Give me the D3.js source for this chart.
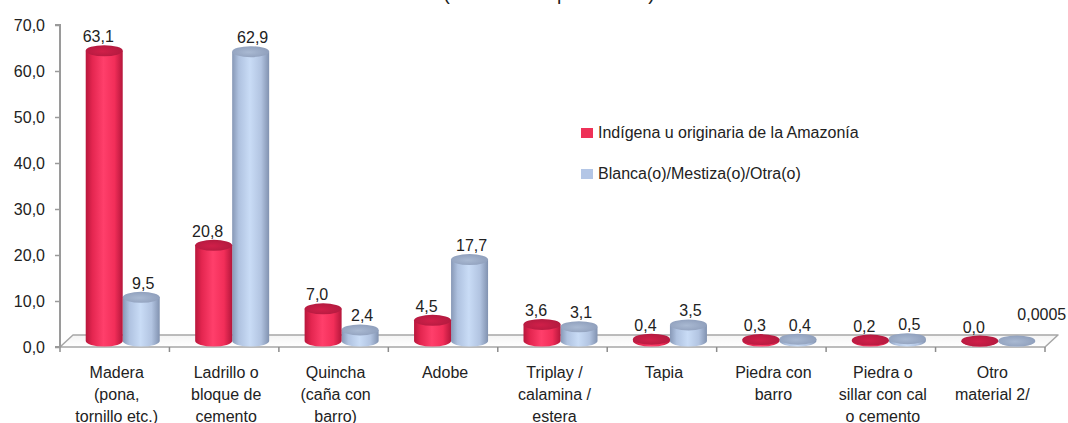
<!DOCTYPE html>
<html>
<head>
<meta charset="utf-8">
<script src="https://cdn.jsdelivr.net/npm/d3@7"></script>
<style>
  html, body { margin: 0; padding: 0; background: #fff; }
  svg { display: block; font-family: "Liberation Sans", Arial, sans-serif; }
</style>
</head>
<body>
<svg id="chart" width="1068" height="423"></svg>
<script>
// Material of the dwelling's walls, by ethnic self-identification (%)
const categories = [
  "Madera\n(pona,\ntornillo etc.)",
  "Ladrillo o\nbloque de\ncemento",
  "Quincha\n(caña con\nbarro)",
  "Adobe",
  "Triplay /\ncalamina /\nestera",
  "Tapia",
  "Piedra con\nbarro",
  "Piedra o\nsillar con cal\no cemento",
  "Otro\nmaterial 2/"
];
const seriesNames = [
  "Indígena u originaria de la Amazonía",
  "Blanca(o)/Mestiza(o)/Otra(o)"
];
const indigenaValues = [63.1, 20.8, 7.0, 4.5, 3.6, 0.4, 0.3, 0.2, 0.0];
const blancaValues   = [9.5, 62.9, 2.4, 17.7, 3.1, 3.5, 0.4, 0.5, 0.0005];
const yTicks = [0, 10, 20, 30, 40, 50, 60, 70];
const titleText = "(Distribución porcentual)";

const svg = d3.select("#chart");
const defs = svg.append("defs");

// plot geometry
const plotLeft = 60, plotRight = 1045, plotFront = 347, plotTop = 25;
const depthX = 13, depthY = 12;          // floor depth offset
const barDX = 8, barDY = 6;              // bars stand mid-depth
const rx = 18.5, ry = 5.5;

const x = d3.scaleBand().domain(categories).range([plotLeft, plotRight]).padding(0);
const y = d3.scaleLinear().domain([0, 70]).range([plotFront, plotTop]);
const yBar = d3.scaleLinear().domain([0, 70]).range([plotFront - barDY, plotTop - barDY]);

const palette = [
  { legend: "#EE3158", stops: ["#B8173C", "#E42650", "#FF3F6B", "#F22E59", "#B5163B"], topFill: "#D01F49", topEdge: "#B21A3F" },
  { legend: "#B3C6E6", stops: ["#8798B6", "#AFC2E0", "#C9DCF6", "#B2C4E1", "#8192B0"], topFill: "#A9B9D2", topEdge: "#8E9EBB" }
];
palette.forEach((p, i) => {
  const g = defs.append("linearGradient").attr("id", "body" + i)
    .attr("x1", 0).attr("x2", 1).attr("y1", 0).attr("y2", 0);
  [0, 0.18, 0.48, 0.78, 1].forEach((o, k) =>
    g.append("stop").attr("offset", o).attr("stop-color", p.stops[k]));
  const t = defs.append("radialGradient").attr("id", "top" + i)
    .attr("cx", 0.45).attr("cy", 0.55).attr("r", 0.6);
  t.append("stop").attr("offset", 0).attr("stop-color", p.topFill);
  t.append("stop").attr("offset", 1).attr("stop-color", p.topEdge);
});

// title, mostly above the top edge
svg.append("text").attr("x", 549).attr("y", 0)
  .attr("text-anchor", "middle").attr("font-size", 19.5).attr("fill", "#222")
  .text(titleText);

// floor
const floor = defs.append("linearGradient").attr("id", "floorFill")
  .attr("x1", 0).attr("x2", 0).attr("y1", 0).attr("y2", 1);
floor.append("stop").attr("offset", 0).attr("stop-color", "#f4f4f4");
floor.append("stop").attr("offset", 1).attr("stop-color", "#ffffff");
svg.append("path")
  .attr("d", `M${plotLeft},${plotFront} L${plotRight},${plotFront} L${plotRight + depthX},${plotFront - depthY} L${plotLeft + depthX},${plotFront - depthY} Z`)
  .attr("fill", "url(#floorFill)").attr("stroke", "#a6a6a6").attr("stroke-width", 1.5)
  .attr("stroke-linejoin", "round");

// x ticks at category boundaries
const bounds = categories.map(c => x(c)).concat([plotRight]);
svg.append("g").selectAll("line").data(bounds).join("line")
  .attr("x1", d => d).attr("x2", d => d)
  .attr("y1", plotFront).attr("y2", plotFront + 5)
  .attr("stroke", "#8c8c8c").attr("stroke-width", 1.5);

// y axis
const fmt = (v, d) => d3.format("." + d + "f")(v).replace(".", ",");
const yAxis = svg.append("g").attr("transform", `translate(${plotLeft},0)`)
  .call(d3.axisLeft(y).tickValues(yTicks).tickSize(5).tickPadding(10)
    .tickFormat(v => fmt(v, 1)));
yAxis.select(".domain").attr("stroke", "#9a9a9a").attr("stroke-width", 2)
  .attr("d", `M-5,${y(70)}H0V${plotFront}H-5`);
yAxis.selectAll(".tick line").attr("stroke", "#9a9a9a").attr("stroke-width", 1.5);
yAxis.selectAll(".tick text").attr("font-size", 16)
  .attr("font-family", "Liberation Sans, Arial, sans-serif").attr("fill", "#222");

// cylinders
const series = [indigenaValues, blancaValues];
const bars = [];
series.forEach((vals, s) => vals.forEach((v, i) => {
  const cx = x(categories[i]) + x.bandwidth() / 2 + barDX + (s === 0 ? -rx : rx);
  bars.push({ s, i, v, cx });
}));
const barG = svg.append("g");
// blue first so the red cylinder sits in front where they touch
[1, 0].forEach(s => {
  bars.filter(b => b.s === s).forEach(b => {
    const yb = yBar(0), yt = yBar(b.v);
    const g = barG.append("g");
    g.append("path")
      .attr("d", `M${b.cx - rx},${yt} L${b.cx - rx},${yb} A${rx},${ry} 0 0 0 ${b.cx + rx},${yb} L${b.cx + rx},${yt} Z`)
      .attr("fill", `url(#body${s})`);
    g.append("ellipse").attr("cx", b.cx).attr("cy", yt).attr("rx", rx).attr("ry", ry)
      .attr("fill", `url(#top${s})`);
  });
});

// value labels
const labelShift = [-6, 2];
const labelNudge = { "1-8": [23, -12] };
svg.append("g").selectAll("text").data(bars).join("text")
  .attr("x", b => b.cx + labelShift[b.s] + (labelNudge[b.s + "-" + b.i] || [0, 0])[0])
  .attr("y", b => yBar(b.v) - ry - 3 + (labelNudge[b.s + "-" + b.i] || [0, 0])[1])
  .attr("text-anchor", "middle").attr("font-size", 16).attr("fill", "#222")
  .text(b => fmt(b.v, b.v > 0 && b.v < 0.05 ? 4 : 1));

// category labels
const catG = svg.append("g");
categories.forEach(c => {
  const t = catG.append("text").attr("text-anchor", "middle").attr("font-size", 16)
    .attr("fill", "#222");
  c.split("\n").forEach((line, k) => {
    t.append("tspan").attr("x", x(c) + x.bandwidth() / 2 + 2).attr("y", 378 + k * 22).text(line);
  });
});

// legend
const legend = svg.append("g");
seriesNames.forEach((name, s) => {
  const ly = 128 + s * 41;
  legend.append("rect").attr("x", 581).attr("y", ly).attr("width", 12).attr("height", 10)
    .attr("fill", palette[s].legend);
  legend.append("text").attr("x", 598).attr("y", ly + 10).attr("font-size", 16)
    .attr("fill", "#222").text(name);
});
</script>
</body>
</html>
